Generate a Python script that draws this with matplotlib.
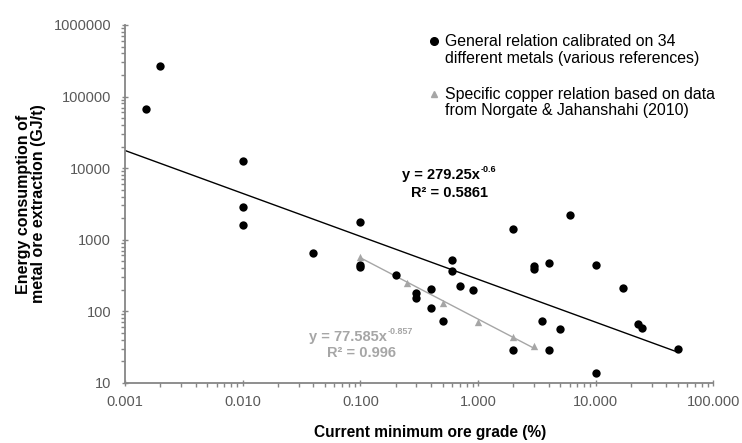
import matplotlib
matplotlib.use("Agg")
import matplotlib.pyplot as plt
import numpy as np
from matplotlib.ticker import LogLocator, FixedLocator, NullFormatter, FuncFormatter
from matplotlib.lines import Line2D

plt.rcParams['font.family'] = ['Liberation Sans', 'DejaVu Sans']

# General relation: 34 metals (ore grade %, energy GJ/t)
general_grade = [0.0015, 0.002, 0.01, 0.01, 0.01, 0.04, 0.1, 0.1, 0.1, 0.2,
                 0.3, 0.3, 0.4, 0.4, 0.5, 0.6, 0.6, 0.7, 0.9, 2.0,
                 2.0, 3.0, 3.0, 3.5, 4.0, 4.0, 5.0, 6.0, 10.0, 10.0,
                 17.0, 23.0, 25.0, 50.0]
general_energy = [68000, 270000, 12600, 2880, 1600, 640, 1780, 440, 410, 322,
                  177, 152, 207, 111, 72, 522, 362, 226, 197, 1390,
                  28.5, 430, 391, 72, 464, 28.6, 57, 2220, 436, 13.7,
                  214, 66, 58, 29.4]

# Specific copper relation (Norgate & Jahanshahi 2010)
copper_grade = [0.1, 0.25, 0.5, 1.0, 2.0, 3.0]
copper_energy = [580, 244, 128, 71, 42.9, 32.4]

# Fitted power-law trends
gen_a, gen_b = 279.25, -0.6
cu_a, cu_b = 77.585, -0.857

legend_labels = [['General relation calibrated on 34', 'different metals (various references)'],
                 ['Specific copper relation based on data', 'from Norgate & Jahanshahi (2010)']]

grey_txt = '#595959'
grey_mark = '#A6A6A6'
spine_col = '#868686'

W, H = 742, 443
fig = plt.figure(figsize=(W/100, H/100), dpi=100)
ax = fig.add_axes([125/W, 1-382.7/H, (713.3-125)/W, (382.7-25)/H])

ax.set_xscale('log')
ax.set_yscale('log')
ax.set_xlim(0.001, 100)
ax.set_ylim(10, 1e6)

# trend lines
xg = np.array([0.001, 50])
ax.plot(xg, gen_a * xg**gen_b, color='black', lw=1.0, zorder=2)
xc = np.array([0.1, 3.0])
ax.plot(xc, cu_a * xc**cu_b, color=grey_mark, lw=1.0, zorder=2)

ax.scatter(general_grade, general_energy, s=36, color='black', zorder=3, linewidths=0)
ax.scatter(copper_grade, copper_energy, s=28, marker='^', color=grey_mark, zorder=3, linewidths=0)

for s in ['top', 'right']:
    ax.spines[s].set_visible(False)
for s in ['left', 'bottom']:
    ax.spines[s].set_color(spine_col)
    ax.spines[s].set_linewidth(1.3)

ax.xaxis.set_major_locator(FixedLocator([0.001, 0.01, 0.1, 1, 10, 100]))
ax.xaxis.set_major_formatter(FuncFormatter(lambda v, p: f"{v:.3f}"))
ax.xaxis.set_minor_locator(LogLocator(base=10, subs=np.arange(2, 10)))
ax.xaxis.set_minor_formatter(NullFormatter())
ax.yaxis.set_major_locator(FixedLocator([10, 100, 1000, 10000, 100000, 1000000]))
ax.yaxis.set_major_formatter(FuncFormatter(lambda v, p: f"{int(round(v))}"))
ax.yaxis.set_minor_locator(LogLocator(base=10, subs=np.arange(2, 10)))
ax.yaxis.set_minor_formatter(NullFormatter())

ax.tick_params(which='major', direction='inout', length=4, width=1, color=spine_col,
               labelsize=10.5, labelcolor=grey_txt)
ax.tick_params(axis='y', which='major', pad=8)
ax.tick_params(axis='x', which='major', pad=7)
ax.tick_params(which='minor', direction='out', length=3, width=1, color=spine_col)

fig.text(430/W, 1-432/H, 'Current minimum ore grade (%)', ha='center', va='center',
         fontsize=11.2, fontweight='bold', color='black')
fig.text(31/W, 1-204/H, 'Energy consumption of\nmetal ore extraction (GJ/t)', ha='center',
         va='center', rotation=90, fontsize=11.5, fontweight='bold', color='black',
         linespacing=1.05)

renderer = fig.canvas.get_renderer()


def sup_text(xc_px, yc_px, base, sup, fs, color):
    t1 = fig.text(0, 0, base, fontsize=fs, fontweight='bold', color=color,
                  ha='left', va='center')
    t2 = fig.text(0, 0, sup, fontsize=fs * 0.62, fontweight='bold', color=color,
                  ha='left', va='center')
    w1 = t1.get_window_extent(renderer).width
    w2 = t2.get_window_extent(renderer).width
    x0 = xc_px - (w1 + w2) / 2
    t1.set_position((x0 / W, 1 - yc_px / H))
    t2.set_position(((x0 + w1 + 0.5) / W, 1 - (yc_px - 5) / H))


def center_text(xc_px, yc_px, s, fs, color):
    fig.text(xc_px / W, 1 - yc_px / H, s, fontsize=fs, fontweight='bold', color=color,
             ha='center', va='center')


sup_text(449, 175, 'y = 279.25x', '-0.6', 10.5, 'black')
center_text(449.5, 192.7, 'R² = 0.5861', 10.5, 'black')
sup_text(361, 336.7, 'y = 77.585x', '-0.857', 10.5, grey_mark)
center_text(361.5, 353, 'R² = 0.996', 10.5, grey_mark)

# Legend (drawn manually so the marker sits on the first text line)
legend_markers = [dict(marker='o', color='black', markersize=5.5),
                  dict(marker='^', color=grey_mark, markersize=5)]
entry_y = [41, 94]
for (lines, mk, y0) in zip(legend_labels, legend_markers, entry_y):
    fig.add_artist(Line2D([434/W], [1 - y0/H], transform=fig.transFigure, ls='none', **mk))
    for i, line in enumerate(lines):
        fig.text(445/W, 1 - (y0 + 17*i)/H, line, fontsize=11.4, color='black',
                 ha='left', va='center')

fig.savefig('out.png', dpi=100)
